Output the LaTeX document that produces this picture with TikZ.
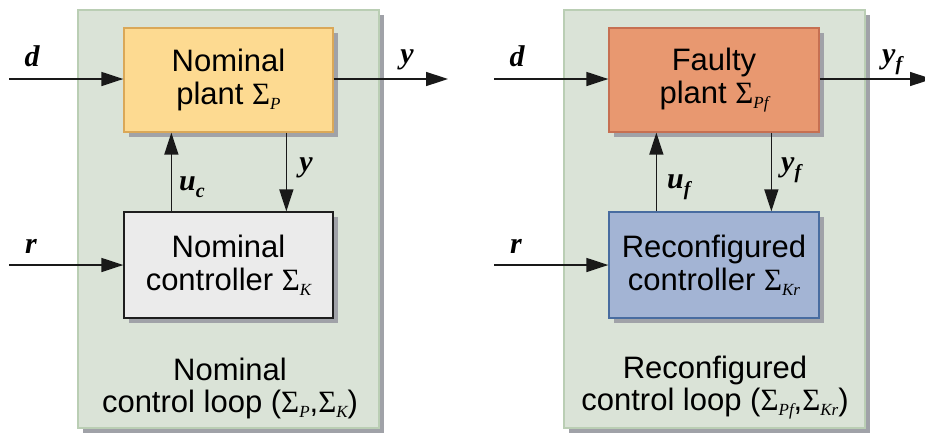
\documentclass[tikz,border=0pt]{standalone}
\usepackage{fontspec}
\setmainfont{Liberation Sans}
\newfontfamily\serifmath{Liberation Serif}
\usetikzlibrary{arrows.meta,shadows,calc}

\definecolor{panelfill}{RGB}{218,227,215}
\definecolor{paneledge}{RGB}{186,206,180}
\definecolor{shadowgray}{RGB}{160,162,168}
\definecolor{nomplantfill}{RGB}{253,218,145}
\definecolor{nomplantedge}{RGB}{218,168,88}
\definecolor{faultfill}{RGB}{232,152,112}
\definecolor{faultedge}{RGB}{198,112,82}
\definecolor{nomctrlfill}{RGB}{235,235,235}
\definecolor{nomctrledge}{RGB}{30,30,30}
\definecolor{recfill}{RGB}{163,180,212}
\definecolor{recedge}{RGB}{72,108,160}

% Sigma with a lowered italic subscript
\newcommand\SigSub[1]{{\serifmath\fontsize{31}{31}\selectfont Σ\raisebox{-5pt}{\fontsize{17}{17}\selectfont\itshape #1}}}
% bold italic signal names
\newcommand\sig[1]{{\serifmath\bfseries\itshape\fontsize{30}{30}\selectfont #1}}
\newcommand\sigsub[2]{{\serifmath\bfseries\itshape\fontsize{30}{30}\selectfont #1\raisebox{-7pt}{\fontsize{20}{20}\selectfont #2}}}

\begin{document}
\begin{tikzpicture}[x=1pt,y=-1pt,
  panel/.style={fill=panelfill, draw=paneledge, line width=1.5pt,
    minimum width=301pt, minimum height=418pt, inner sep=0pt,
    drop shadow={shadow xshift=5pt, shadow yshift=-5pt, fill=shadowgray, opacity=1}},
  block/.style={line width=1.3pt, minimum width=209pt, minimum height=104pt,
    inner sep=0pt, align=center, font=\fontsize{31}{33}\selectfont,
    drop shadow={shadow xshift=5pt, shadow yshift=-5pt, fill=shadowgray, opacity=1}},
  caption/.style={align=center, font=\fontsize{31}{32}\selectfont, inner sep=0pt},
  arr/.style={line width=1.5pt, draw=black!90, -{Triangle[length=22pt,width=14pt]}},
  lbl/.style={inner sep=0pt}]
\useasboundingbox (0,0) rectangle (925,432);

% ---------------- nominal loop ----------------
\node[panel] (loopA) at (228.5,219) {};
\node[block, fill=nomplantfill, draw=nomplantedge] (plantA) at (228.5,80)
  {Nominal\\plant \SigSub{P}};
\node[block, fill=nomctrlfill, draw=nomctrledge, minimum height=106pt] (ctrlA) at (228.5,265)
  {Nominal\\controller \SigSub{K}};
\node[caption] (capA) at (230,388) {Nominal\\control loop (\SigSub{P},\SigSub{K})};

\coordinate (dA) at (9,79);
\coordinate (yA) at (448,79);
\coordinate (rA) at (9,265);
\draw[arr] (dA) -- (dA -| plantA.west);
\draw[arr] (plantA.east |- yA) -- (yA);
\draw[arr] (rA) -- (rA -| ctrlA.west);
\draw[arr] ($(ctrlA.north west)+(48,0)$) -- ($(plantA.south west)+(48,0)$);
\draw[arr] ($(plantA.south west)+(163,0)$) -- ($(ctrlA.north west)+(163,0)$);

\node[lbl] (dlA) at (32,56) {\sig{d}};
\node[lbl] (ylA) at (407,60) {\sig{y}};
\node[lbl] (rlA) at (31,246) {\sig{r}};
\node[lbl, anchor=west] (ulA) at (179,187) {\sigsub{u}{c}};
\node[lbl] (yclA) at (306,168) {\sig{y}};

% ---------------- reconfigured loop ----------------
\node[panel] (loopB) at (714.5,219) {};
\node[block, fill=faultfill, draw=faultedge, minimum width=210pt] (plantB) at (714,80)
  {Faulty\\plant \SigSub{Pf}};
\node[block, fill=recfill, draw=recedge, minimum width=210pt, minimum height=106pt] (ctrlB) at (714,265)
  {Reconfigured\\controller \SigSub{Kr}};
\node[caption] (capB) at (715,388) {Reconfigured\\control loop (\SigSub{Pf},\SigSub{Kr})};

\coordinate (dB) at (494,79);
\coordinate (yB) at (932,79);
\coordinate (rB) at (494,265);
\draw[arr] (dB) -- (dB -| plantB.west);
\draw[arr] (plantB.east |- yB) -- (yB);
\draw[arr] (rB) -- (rB -| ctrlB.west);
\draw[arr] ($(ctrlB.north west)+(48,0)$) -- ($(plantB.south west)+(48,0)$);
\draw[arr] ($(plantB.south west)+(163,0)$) -- ($(ctrlB.north west)+(163,0)$);

\node[lbl] (dlB) at (517,56) {\sig{d}};
\node[lbl, anchor=west] (ylB) at (882,62) {\sigsub{y}{f}};
\node[lbl] (rlB) at (516,246) {\sig{r}};
\node[lbl, anchor=west] (ulB) at (667,187) {\sigsub{u}{f}};
\node[lbl, anchor=west] (yflB) at (781,170) {\sigsub{y}{f}};
\end{tikzpicture}
\end{document}
